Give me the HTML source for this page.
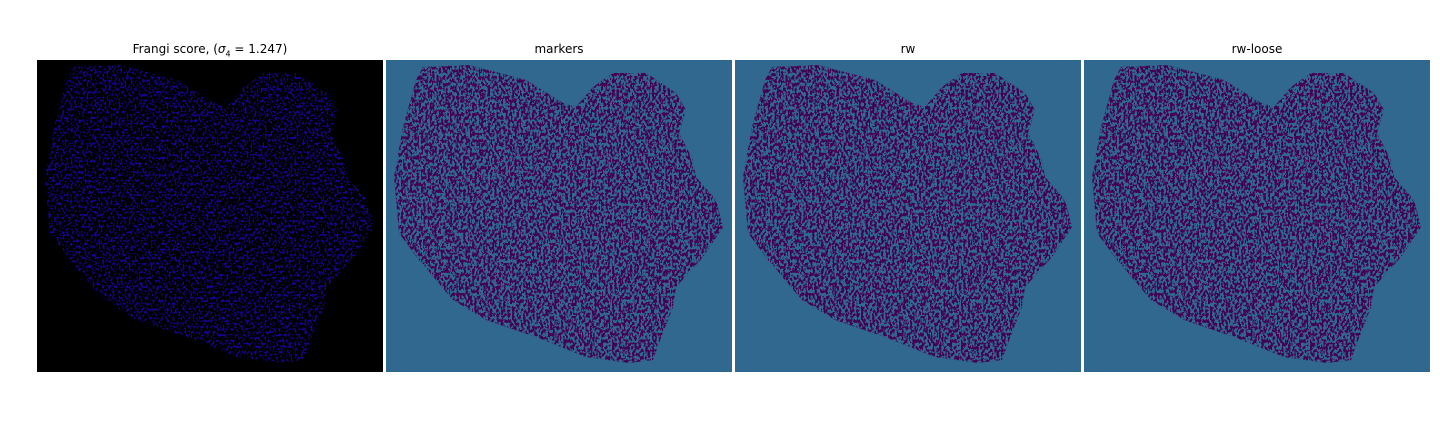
<!DOCTYPE html>
<html><head><meta charset="utf-8">
<style>
body{margin:0;width:1440px;height:432px;background:#fff;overflow:hidden;font-family:"DejaVu Sans","Liberation Sans",sans-serif;}
.p{position:absolute;top:60px;width:346px;height:312px;}
.t{position:absolute;top:42px;width:346px;text-align:center;font-size:12px;color:#000;}
</style></head><body>
<svg width="0" height="0" style="position:absolute">
<defs>
<clipPath id="blob"><path d="M37,7 L83,5 L140,20 L177,43 L190,47 L207,27 L227,13 L260,13 L290,33 L300,50 L293,73 L307,100 L310,117 L330,140 L337,167 L333,173 L317,197 L290,227 L287,247 L273,283 L267,300 L243,303 L200,297 L150,277 L100,260 L67,240 L33,200 L13,173 L8,117 L17,67 L30,20 Z"/></clipPath>
<filter id="nt" x="0" y="0" width="100%" height="100%" color-interpolation-filters="sRGB">
<feTurbulence type="fractalNoise" baseFrequency="0.45 0.3" numOctaves="2" seed="4"/>
<feColorMatrix type="matrix" values="0 0 0 0 0.19  0 0 0 0 0.41  0 0 0 0 0.56  1 0 0 0 0"/>
<feComponentTransfer><feFuncA type="discrete" tableValues="0 1"/></feComponentTransfer>
</filter>
<filter id="nb" x="0" y="0" width="100%" height="100%" color-interpolation-filters="sRGB">
<feTurbulence type="fractalNoise" baseFrequency="0.5 0.35" numOctaves="2" seed="7"/>
<feColorMatrix type="matrix" values="0 0 0 0 0.1  0 0 0 0 0.0  0 0 0 0 0.6  1 0 0 0 0"/>
<feComponentTransfer><feFuncA type="discrete" tableValues="0 0 0 0 1 1 1"/></feComponentTransfer>
</filter>
</defs></svg>

<div class="t" style="left:37px">Frangi score, (<i>σ</i><sub style="font-size:8px">4</sub> = 1.247)</div>
<svg class="p" style="left:37px">
<rect width="346" height="312" fill="#000"/>
<g clip-path="url(#blob)"><rect width="346" height="312" fill="#000"/><rect width="346" height="312" filter="url(#nb)"/></g>
</svg>

<div class="t" style="left:386px">markers</div>
<svg class="p" style="left:386px">
<rect width="346" height="312" fill="#306890"/>
<g clip-path="url(#blob)"><rect width="346" height="312" fill="#440154"/><rect width="346" height="312" filter="url(#nt)"/></g>
</svg>

<div class="t" style="left:735px">rw</div>
<svg class="p" style="left:735px">
<rect width="346" height="312" fill="#306890"/>
<g clip-path="url(#blob)"><rect width="346" height="312" fill="#440154"/><rect width="346" height="312" filter="url(#nt)"/></g>
</svg>

<div class="t" style="left:1084px">rw-loose</div>
<svg class="p" style="left:1084px">
<rect width="346" height="312" fill="#306890"/>
<g clip-path="url(#blob)"><rect width="346" height="312" fill="#440154"/><rect width="346" height="312" filter="url(#nt)"/></g>
</svg>
</body></html>
